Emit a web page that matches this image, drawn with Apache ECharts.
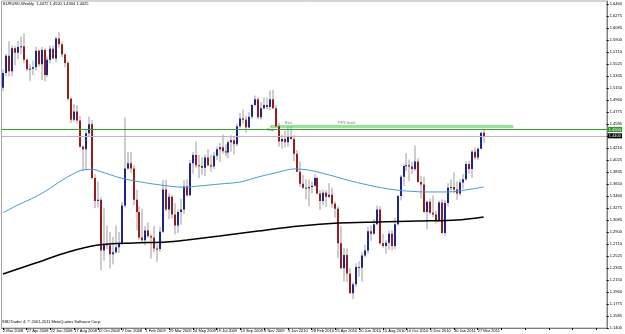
<!DOCTYPE html>
<html>
<head>
<meta charset="utf-8">
<title>EURUSD,Weekly</title>
<script src="https://cdn.jsdelivr.net/npm/echarts@6/dist/echarts.min.js"></script>
<style>
  html, body { margin: 0; padding: 0; background: #fff; }
  #chart { width: 625px; height: 334px; }
</style>
</head>
<body>
<div id="chart"></div>
<script>
// weekly bars, first one is the week of 2 Mar 2008
const opens = [1.5150,1.5380,1.5650,1.5410,1.5770,1.5700,1.5790,1.5800,1.5590,1.5440,1.5450,1.5470,1.5730,1.5520,1.5740,1.5350,1.5590,1.5760,1.5610,1.5920,1.5830,1.5670,1.5540,1.4980,1.4650,1.4780,1.4640,1.4230,1.4190,1.4440,1.4580,1.3740,1.3380,1.3400,1.2610,1.2710,1.2690,1.2550,1.2580,1.2660,1.2720,1.3310,1.3890,1.3970,1.3890,1.3400,1.3210,1.2810,1.2770,1.2920,1.2830,1.2810,1.2640,1.2630,1.2900,1.3560,1.3250,1.3450,1.3170,1.3000,1.3210,1.3250,1.3610,1.3470,1.3970,1.4100,1.3940,1.3930,1.3900,1.4060,1.3940,1.3920,1.4090,1.4190,1.4220,1.4160,1.4140,1.4300,1.4330,1.4270,1.4550,1.4670,1.4650,1.4530,1.4700,1.4880,1.4970,1.4690,1.4830,1.4880,1.4850,1.4970,1.4830,1.4550,1.4310,1.4350,1.4300,1.4380,1.4350,1.4120,1.3840,1.3650,1.3590,1.3580,1.3600,1.3620,1.3740,1.3500,1.3380,1.3510,1.3450,1.3480,1.3340,1.3260,1.2720,1.2330,1.2540,1.2250,1.1940,1.2080,1.2350,1.2340,1.2530,1.2610,1.2910,1.2870,1.3020,1.3250,1.2720,1.2680,1.2730,1.2870,1.2680,1.3020,1.3460,1.3760,1.3930,1.3940,1.3920,1.3880,1.4000,1.3680,1.3640,1.3210,1.3370,1.3200,1.3170,1.3080,1.3360,1.2880,1.3350,1.3590,1.3600,1.3560,1.3500,1.3670,1.3720,1.3960,1.3880,1.4150,1.4060,1.4200,1.4450]
const highs = [1.5440,1.5680,1.5880,1.5810,1.5800,1.5880,1.5950,1.6000,1.5610,1.5520,1.5580,1.5790,1.5750,1.5790,1.5770,1.5640,1.5810,1.5810,1.5950,1.6020,1.5880,1.5690,1.5570,1.5000,1.4900,1.4880,1.4710,1.4250,1.4500,1.4700,1.4650,1.3800,1.3690,1.3440,1.3270,1.3000,1.2900,1.2820,1.3000,1.2900,1.3370,1.4690,1.4150,1.4150,1.3940,1.3560,1.3300,1.3260,1.2990,1.3050,1.2870,1.2990,1.2710,1.2980,1.3710,1.3710,1.3510,1.3470,1.3350,1.3250,1.3420,1.3710,1.3720,1.4020,1.4150,1.4310,1.4100,1.4070,1.4110,1.4190,1.4100,1.4150,1.4230,1.4290,1.4420,1.4270,1.4330,1.4410,1.4400,1.4590,1.4760,1.4810,1.4710,1.4770,1.4900,1.5030,1.5000,1.4930,1.5000,1.5000,1.5110,1.5120,1.4880,1.4600,1.4420,1.4480,1.4550,1.4550,1.4410,1.4180,1.4000,1.3790,1.3720,1.3720,1.3690,1.3800,1.3760,1.3550,1.3560,1.3550,1.3660,1.3590,1.3380,1.3300,1.2990,1.2650,1.2640,1.2330,1.2120,1.2410,1.2440,1.2580,1.2700,1.2980,1.3000,1.3100,1.3310,1.3300,1.2870,1.2770,1.2920,1.2930,1.3120,1.3480,1.3790,1.3950,1.4130,1.4030,1.4000,1.4250,1.4050,1.3770,1.3760,1.3390,1.3420,1.3470,1.3230,1.3390,1.3410,1.3400,1.3660,1.3720,1.3830,1.3690,1.3720,1.3800,1.4000,1.4010,1.4180,1.4220,1.4220,1.4460,1.4500]
const lows = [1.5100,1.5330,1.5330,1.5330,1.5500,1.5600,1.5680,1.5530,1.5410,1.5260,1.5350,1.5420,1.5480,1.5270,1.5250,1.5320,1.5530,1.5600,1.5550,1.5780,1.5630,1.5470,1.4950,1.4600,1.4620,1.4590,1.4220,1.3850,1.3870,1.4380,1.3720,1.3270,1.3280,1.2300,1.2450,1.2630,1.2330,1.2390,1.2560,1.2570,1.2700,1.3280,1.3870,1.3820,1.3320,1.2920,1.2780,1.2730,1.2690,1.2810,1.2480,1.2580,1.2430,1.2590,1.2880,1.3220,1.3100,1.3110,1.2860,1.2880,1.3010,1.3180,1.3450,1.3460,1.3810,1.3900,1.3740,1.3790,1.3770,1.3920,1.3840,1.3880,1.4020,1.3990,1.4120,1.4080,1.4050,1.4150,1.4110,1.4240,1.4520,1.4590,1.4450,1.4520,1.4660,1.4860,1.4660,1.4650,1.4810,1.4820,1.4800,1.4820,1.4530,1.4230,1.4200,1.4220,1.4230,1.4330,1.4000,1.3830,1.3600,1.3570,1.3410,1.3300,1.3500,1.3600,1.3480,1.3240,1.3320,1.3290,1.3430,1.3280,1.3120,1.2490,1.2320,1.2120,1.2110,1.1930,1.1850,1.2040,1.2200,1.2120,1.2500,1.2560,1.2760,1.2850,1.3000,1.2700,1.2650,1.2560,1.2620,1.2610,1.2630,1.3000,1.3390,1.3620,1.3850,1.3690,1.3800,1.3850,1.3660,1.3420,1.3200,1.2940,1.3170,1.3130,1.3030,1.3060,1.2860,1.2840,1.3300,1.3540,1.3500,1.3400,1.3460,1.3570,1.3700,1.3810,1.3740,1.4030,1.4020,1.4190,1.4290]
const closes = [1.5380,1.5650,1.5410,1.5770,1.5700,1.5790,1.5800,1.5590,1.5440,1.5450,1.5470,1.5730,1.5520,1.5740,1.5350,1.5590,1.5760,1.5610,1.5920,1.5830,1.5670,1.5540,1.4980,1.4650,1.4780,1.4640,1.4230,1.4190,1.4440,1.4580,1.3740,1.3380,1.3400,1.2610,1.2710,1.2690,1.2550,1.2580,1.2660,1.2720,1.3310,1.3890,1.3970,1.3890,1.3400,1.3210,1.2810,1.2770,1.2920,1.2830,1.2810,1.2640,1.2630,1.2900,1.3560,1.3250,1.3450,1.3170,1.3000,1.3210,1.3250,1.3610,1.3470,1.3970,1.4100,1.3940,1.3930,1.3900,1.4060,1.3940,1.3920,1.4090,1.4190,1.4220,1.4160,1.4140,1.4300,1.4330,1.4270,1.4550,1.4670,1.4650,1.4530,1.4700,1.4880,1.4970,1.4690,1.4830,1.4880,1.4850,1.4970,1.4830,1.4550,1.4310,1.4350,1.4300,1.4380,1.4350,1.4120,1.3840,1.3650,1.3590,1.3580,1.3600,1.3620,1.3740,1.3500,1.3380,1.3510,1.3450,1.3480,1.3340,1.3260,1.2720,1.2330,1.2540,1.2250,1.1940,1.2080,1.2350,1.2340,1.2530,1.2610,1.2910,1.2870,1.3020,1.3250,1.2720,1.2680,1.2730,1.2870,1.2680,1.3020,1.3460,1.3760,1.3930,1.3940,1.3920,1.3880,1.4000,1.3680,1.3640,1.3210,1.3370,1.3200,1.3170,1.3080,1.3360,1.2880,1.3350,1.3590,1.3600,1.3560,1.3500,1.3670,1.3720,1.3960,1.3880,1.4150,1.4060,1.4200,1.4450,1.4390]

// moving averages at a few bars
const maFastIdx = [0,5,11,15,20,26,30,33,40,46,53,61,66,73,80,86,93,98,103,110,116,123,130,136,143,150,156,162]
const maFastVal = [1.3199,1.3319,1.3449,1.3554,1.3710,1.3855,1.3877,1.3840,1.3737,1.3683,1.3632,1.3596,1.3616,1.3647,1.3679,1.3757,1.3835,1.3882,1.3866,1.3788,1.3710,1.3632,1.3569,1.3538,1.3523,1.3523,1.3554,1.3601]
const maSlowIdx = [0,11,22,32,44,55,62,73,86,100,113,126,140,153,162]
const maSlowVal = [1.2241,1.2413,1.2585,1.2694,1.2726,1.2741,1.2773,1.2835,1.2913,1.2991,1.3038,1.3054,1.3069,1.3085,1.3132]

// price scale labels
const priceTicks = [1.6460,1.6275,1.6085,1.5900,1.5710,1.5525,1.5335,1.5150,1.4960,1.4775,1.4585,1.4400,1.4210,1.4025,1.3835,1.3650,1.3460,1.3275,1.3085,1.2900,1.2710,1.2525,1.2335,1.2150,1.1960,1.1775,1.1585,1.1400]

// horizontal levels and chart objects
const levelValues = [1.4390, 1.4460, 1.4546] // bid, orange, green
const levelColors = ['#b8b8b8', '#f07a3c', '#22aa22']
const levelTagColors = ['#000000', '#f05a28', '#2e9a2e']
const levelTypes = ['solid', [1, 2], 'solid']
const ppzLevel = 1.4546
const ppzStart = 90
const ppzEnd = 172
const textNames = ['Res', 'Sup', 'PPZ level']
const textIdx = [95, 89, 113]
const textPrice = [1.4605, 1.4491, 1.4605]

const headerText = 'EURUSD,Weekly  1.4472 1.4520 1.4304 1.4425'
const copyText = 'SSDTrader 4, © 2001-2011 MetaQuotes Software Corp.'

const slotCount = 204
const yMin = 1.13975
const yMax = 1.65069
const font = 'Liberation Sans'
const monthNames = ['Jan','Feb','Mar','Apr','May','Jun','Jul','Aug','Sep','Oct','Nov','Dec']

const weekDates = []
const startDate = Date.UTC(2008, 2, 2)
for (let i = 0; i < slotCount; i++) {
  const d = new Date(startDate + i * 7 * 86400000)
  weekDates.push(d.getUTCDate() + ' ' + monthNames[d.getUTCMonth()] + ' ' + d.getUTCFullYear())
}

const candleData = opens.map((o, i) => [i, o, closes[i], lows[i], highs[i]])
const maFast = maFastIdx.map((x, i) => [x, maFastVal[i]])
const maSlow = maSlowIdx.map((x, i) => [x, maSlowVal[i]])
const textData = textNames.map((n, i) => ({ name: n, value: [textIdx[i], textPrice[i]] }))

function renderCandle (params, api) {
  const i = api.value(0)
  const o = api.coord([i, api.value(1)])
  const c = api.coord([i, api.value(2)])
  const l = api.coord([i, api.value(3)])
  const h = api.coord([i, api.value(4)])
  const x = Math.round(o[0])
  const up = api.value(2) >= api.value(1)
  const top = Math.min(o[1], c[1])
  const hgt = Math.max(Math.abs(o[1] - c[1]), 1)
  return {
    type: 'group',
    children: [
      { type: 'line', shape: { x1: x, y1: h[1], x2: x, y2: l[1] }, style: { stroke: '#9c9c9c', lineWidth: 1 } },
      { type: 'rect', shape: { x: x - 1, y: top, width: 2, height: hgt }, style: { fill: up ? '#1d2496' : '#991c1c' } }
    ]
  }
}

// one empty series per horizontal level, carrying its own markLine
function levelSeries (k) {
  return {
    type: 'line',
    data: [],
    silent: true,
    z: 4 + k,
    markLine: {
      symbol: ['none', 'none'],
      silent: true,
      animation: false,
      lineStyle: { color: levelColors[k], type: levelTypes[k], width: 1, opacity: 1 },
      label: {
        show: true,
        position: 'end',
        distance: 1,
        color: '#fff',
        fontSize: 4,
        fontFamily: font,
        backgroundColor: levelTagColors[k],
        padding: [1, 1, 0, 1],
        formatter: p => p.value.toFixed(4)
      },
      data: [{ yAxis: levelValues[k] }]
    }
  }
}

const chart = echarts.init(document.getElementById('chart'))

chart.setOption({
  animation: false,
  backgroundColor: '#fff',
  title: [
    { text: headerText, left: 3, top: 2, padding: 0, textStyle: { fontSize: 4, fontWeight: 'normal', color: '#000', fontFamily: font } },
    { text: copyText, left: 2, top: 320, padding: 0, textStyle: { fontSize: 4, fontWeight: 'normal', color: '#000', fontFamily: font } }
  ],
  grid: {
    left: 0,
    right: 15,
    top: 1,
    bottom: 6,
    show: true,
    borderColor: '#a8a8a8',
    borderWidth: 1
  },
  xAxis: {
    type: 'category',
    data: weekDates,
    boundaryGap: true,
    axisLine: { lineStyle: { color: '#808080' } },
    axisTick: { show: true, interval: 7, length: 2, alignWithLabel: true, lineStyle: { color: '#000' } },
    axisLabel: {
      interval: 7,
      align: 'left',
      margin: 1,
      fontSize: 4,
      fontFamily: font,
      color: '#000',
      formatter: (v, idx) => (idx < opens.length ? v : '')
    },
    splitLine: { show: false }
  },
  yAxis: {
    type: 'value',
    position: 'right',
    min: yMin,
    max: yMax,
    splitLine: { show: false },
    axisLine: { show: true, lineStyle: { color: '#808080' } },
    axisTick: { show: true, length: 2, customValues: priceTicks, lineStyle: { color: '#000' } },
    axisLabel: {
      customValues: priceTicks,
      margin: 3,
      fontSize: 4,
      fontFamily: font,
      color: '#000',
      formatter: v => v.toFixed(4)
    }
  },
  series: [
    {
      type: 'line',
      data: [[ppzStart, ppzLevel], [ppzEnd, ppzLevel]],
      showSymbol: false,
      silent: true,
      lineStyle: { color: '#92e592', width: 3 },
      z: 1
    },
    {
      type: 'custom',
      renderItem: renderCandle,
      data: candleData,
      encode: { x: 0, y: [1, 2, 3, 4] },
      clip: true,
      silent: true,
      z: 2
    },
    {
      type: 'line',
      data: maFast,
      smooth: 0.3,
      showSymbol: false,
      silent: true,
      lineStyle: { color: '#3f9bdb', width: 1 },
      z: 3
    },
    {
      type: 'line',
      data: maSlow,
      smooth: 0.3,
      showSymbol: false,
      silent: true,
      lineStyle: { color: '#000', width: 1.5 },
      z: 3
    },
    levelSeries(0),
    levelSeries(1),
    levelSeries(2),
    {
      type: 'scatter',
      data: textData,
      symbolSize: 0,
      silent: true,
      z: 8,
      label: {
        show: true,
        position: 'right',
        distance: 0,
        fontSize: 4,
        fontFamily: font,
        color: '#555',
        formatter: p => p.name
      }
    }
  ]
})
</script>
</body>
</html>
